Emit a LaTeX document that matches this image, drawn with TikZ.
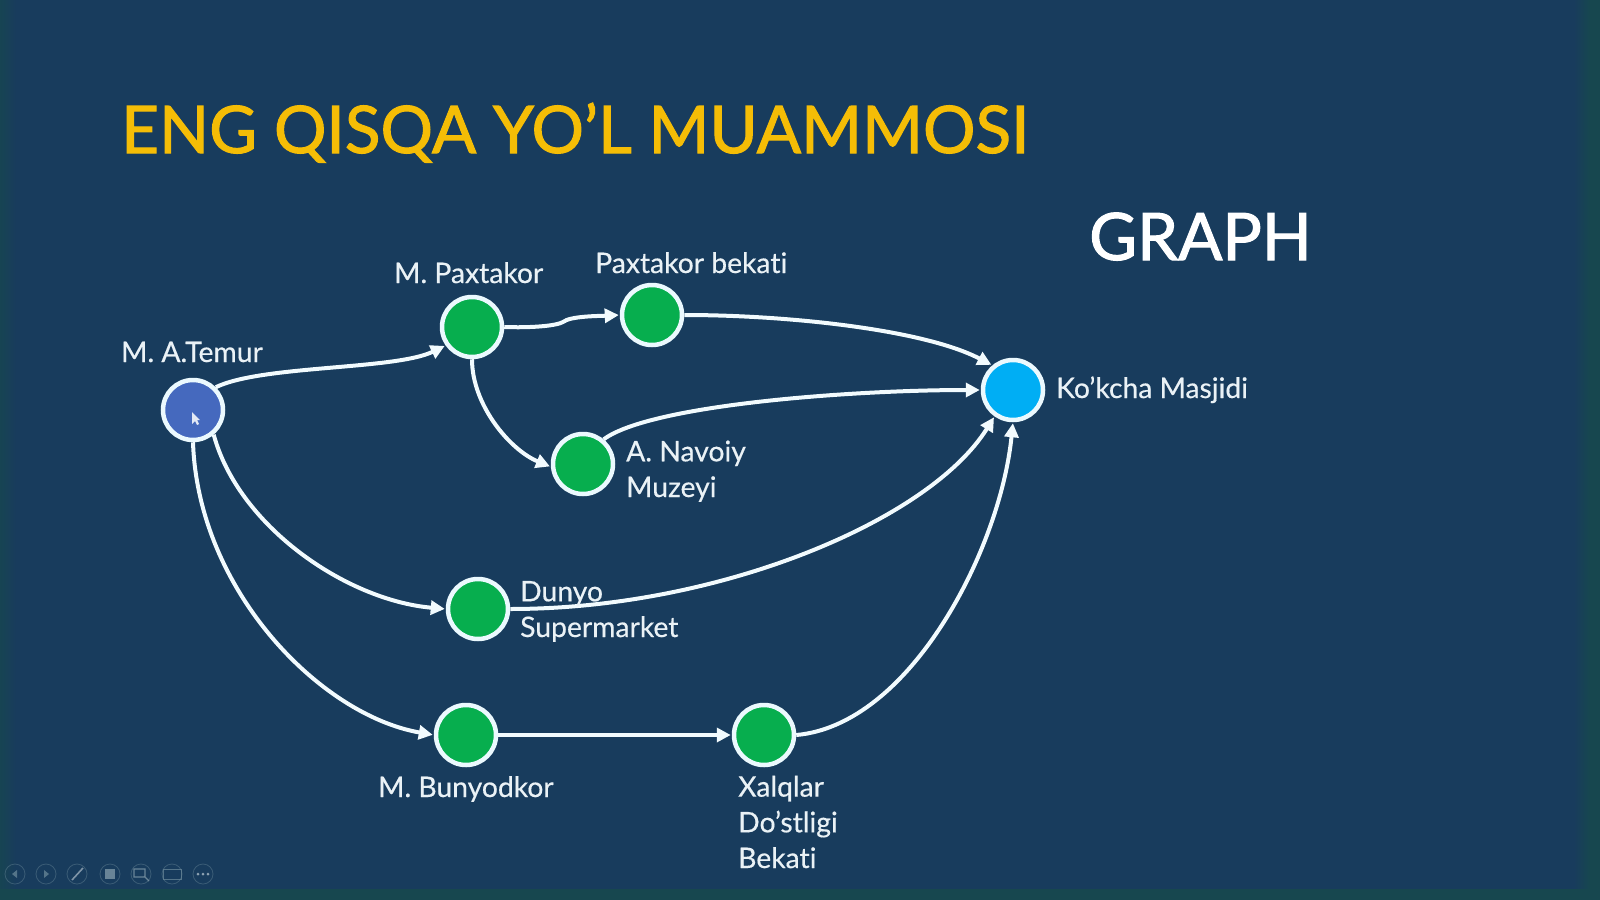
\documentclass[tikz,border=0pt]{standalone}
\usepackage{fontspec}
\setmainfont[Ligatures=NoCommon]{Lato}
\newfontfamily\titlefont[Ligatures=NoCommon,FakeBold=1.6]{Lato}
\newfontfamily\labelfont[Ligatures=NoCommon,FakeBold=0.4]{Lato}
\usetikzlibrary{arrows.meta}
\definecolor{bgblue}{HTML}{183C5D}
\definecolor{bgedge}{HTML}{17474F}
\definecolor{nodegreen}{HTML}{07AE4E}
\definecolor{startblue}{HTML}{4569BE}
\definecolor{endblue}{HTML}{00AEF4}
\definecolor{titleyellow}{HTML}{F5BD06}
\definecolor{labelwhite}{HTML}{EAF2F6}
\definecolor{toolgrey}{HTML}{6E8C9C}
\tikzset{
  x=1pt,y=-1pt,
  stop/.style={circle,draw=white!92!endblue,line width=4.5pt,minimum size=60pt,inner sep=0pt,fill=nodegreen},
  link/.style={draw=white!95!endblue,line width=4pt,-{Triangle[length=14pt,width=14pt]},shorten >=1pt},
  lab/.style={text=labelwhite,font=\labelfont\fontsize{28.3}{35.7}\selectfont,inner sep=0pt,anchor=base west,align=left},
  tool/.style={circle,draw=toolgrey,line width=0.8pt,minimum size=20pt,inner sep=0pt,opacity=.4},
}
\begin{document}
\begin{tikzpicture}
\useasboundingbox (0,0) rectangle (1600,899);
\fill[bgblue] (-6,-6) rectangle (1606,905);
\fill[left color=bgedge,right color=bgblue] (-6,-6) rectangle (16,905);
\fill[left color=bgblue,right color=bgedge] (1574,-6) rectangle (1590,905);
\fill[bgedge] (1590,-6) rectangle (1606,905);
\fill[bgedge] (-6,889) rectangle (1606,905);

\node[text=titleyellow,font=\titlefont\fontsize{65.6}{70}\selectfont,inner sep=0pt,anchor=base west] (title) at (121,153) {ENG QISQA YO’L MUAMMOSI};
\node[text=white,font=\titlefont\fontsize{65.5}{74}\selectfont,inner sep=0pt,anchor=base west] (graph) at (1089,260) {GRAPH};

\node[stop,fill=startblue] (temur) at (193,410) {};
\node[stop] (paxtakor) at (472,327) {};
\node[stop] (bekati) at (652,315) {};
\node[stop] (navoiy) at (583,464) {};
\node[stop] (dunyo) at (478,609) {};
\node[stop] (bunyod) at (466,735) {};
\node[stop] (xalqlar) at (764,735) {};
\node[stop,fill=endblue] (kochka) at (1013,390) {};

\draw[link] (temur.45) .. controls (262,365) and (395,370) .. (paxtakor.215);
\draw[link] (paxtakor.0) .. controls (530,328) and (556,326) .. (563,322) .. controls (570,316) and (600,316) .. (bekati.180);
\draw[link] (bekati.0) .. controls (790,315) and (925,330) .. (kochka.130);
\draw[link] (paxtakor.270) .. controls (472,405) and (510,450) .. (navoiy.185);
\draw[link] (navoiy.50) .. controls (650,405) and (850,390) .. (kochka.180);
\draw[link] (temur.-50) .. controls (238,525) and (345,600) .. (dunyo.180);
\draw[link] (dunyo.0) .. controls (720,609) and (930,520) .. (kochka.-125);
\draw[link] (temur.270) .. controls (198,590) and (320,715) .. (bunyod.180);
\draw[link] (bunyod.0) -- (xalqlar.180);
\draw[link] (xalqlar.0) .. controls (910,725) and (1000,550) .. (kochka.270);

\node[lab] (ltemur) at (121,362) {M. A.Temur};
\node[lab] (lpax) at (394,283) {M. Paxtakor};
\node[lab] (lbek) at (595,273) {Paxtakor bekati};
\node[lab] (lkoch) at (1056,398) {Ko’kcha Masjidi};
\node[lab] (lnav) at (626,497) {A. Navoiy\\Muzeyi};
\node[lab] (ldun) at (520,637) {Dunyo\\Supermarket};
\node[lab] (lbun) at (378,797) {M. Bunyodkor};
\node[lab] (lxal) at (738,868) {Xalqlar\\Do’stligi\\Bekati};

% mouse pointer
\fill[white!85!startblue] (192,412) -- (192,424) -- (195,421) -- (197,425) -- (199,424) -- (197,420) -- (200,420) -- cycle;

% presenter toolbar
\node[tool] (t1) at (15,874) {};
\node[tool] (t2) at (46,874) {};
\node[tool] (t3) at (77,874) {};
\node[tool] (t4) at (110,874) {};
\node[tool] (t5) at (141,874) {};
\node[tool] (t6) at (172,874) {};
\node[tool] (t7) at (203,874) {};
\begin{scope}[opacity=.7]
\fill[toolgrey] (12,874) -- (17,870) -- (17,878) -- cycle;
\fill[toolgrey] (49,874) -- (44,870) -- (44,878) -- cycle;
\draw[labelwhite!70!bgblue,line width=1.6pt] (72,880) -- (83,868);
\fill[toolgrey!80!white] (105,869) rectangle (115,879);
\draw[toolgrey!80!white,line width=1.2pt] (134,869) rectangle (145,877) (144,876) -- (149,881);
\draw[toolgrey,line width=1pt] (163,869) rectangle (181,879);
\fill[labelwhite!80!bgblue] (198,874) circle (1.5) (203,874) circle (1.5) (208,874) circle (1.5);
\end{scope}
\end{tikzpicture}
\end{document}
